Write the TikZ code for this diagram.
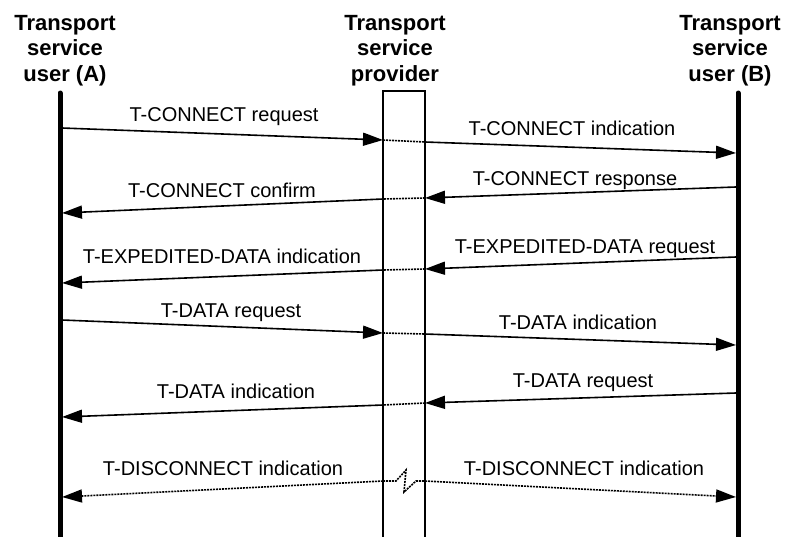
\documentclass[tikz,border=0pt]{standalone}
\usepackage{fontspec}
\setmainfont{Liberation Sans}
\usepackage{tikz}
\usetikzlibrary{arrows.meta}

\begin{document}
\begin{tikzpicture}[
  x=1pt, y=-1pt,
  title/.style={align=center, inner sep=0pt, anchor=north,
               font=\fontsize{22}{25.5}\selectfont\bfseries},
  lbl/.style={inner sep=0pt, anchor=base, font=\fontsize{20}{24}\selectfont},
  life/.style={line width=5pt, line cap=round},
  msg/.style={-{Triangle[length=20pt, width=13pt]}, line width=1.6pt},
  hop/.style={line width=1.6pt, dash pattern=on 2pt off 1pt}
]
\clip (0,0) rectangle (800,536);
\useasboundingbox (0,0) rectangle (800,536);

% headings
\node[title] (userA) at (65,15) {Transport\\service\\user (A)};
\node[title] (prov) at (395,15) {Transport\\service\\provider};
\node[title] (userB) at (730,15) {Transport\\service\\user (B)};

% life lines and provider box
\draw[life] (60,93) -- (60,545);
\draw[life] (738,93) -- (738,545);
\draw[line width=1.6pt] (383,545) -- (383,91) -- (425,91) -- (425,545);

% T-CONNECT
\coordinate (c1a) at (62,128);  \coordinate (c1p) at (383,140);
\coordinate (c1q) at (425,142); \coordinate (c1b) at (736,153);
\draw[msg] (c1a) -- (c1p);
\draw[hop] (c1p) -- (c1q);
\draw[msg] (c1q) -- (c1b);
\node[lbl] (l1a) at (224,121) {T-CONNECT request};
\node[lbl] (l1b) at (572,135) {T-CONNECT indication};

\coordinate (c2b) at (736,187); \coordinate (c2q) at (425,198);
\coordinate (c2p) at (383,199); \coordinate (c2a) at (62,213);
\draw[msg] (c2b) -- (c2q);
\draw[hop] (c2q) -- (c2p);
\draw[msg] (c2p) -- (c2a);
\node[lbl] (l2b) at (575,185) {T-CONNECT response};
\node[lbl] (l2a) at (222,197) {T-CONNECT confirm};

% T-EXPEDITED-DATA
\coordinate (c3b) at (736,257); \coordinate (c3q) at (425,269);
\coordinate (c3p) at (383,270); \coordinate (c3a) at (62,283);
\draw[msg] (c3b) -- (c3q);
\draw[hop] (c3q) -- (c3p);
\draw[msg] (c3p) -- (c3a);
\node[lbl] (l3b) at (585,253) {T-EXPEDITED-DATA request};
\node[lbl] (l3a) at (222,263) {T-EXPEDITED-DATA indication};

% T-DATA
\coordinate (c4a) at (62,320);  \coordinate (c4p) at (383,333);
\coordinate (c4q) at (425,334); \coordinate (c4b) at (736,345);
\draw[msg] (c4a) -- (c4p);
\draw[hop] (c4p) -- (c4q);
\draw[msg] (c4q) -- (c4b);
\node[lbl] (l4a) at (231,317) {T-DATA request};
\node[lbl] (l4b) at (578,329) {T-DATA indication};

\coordinate (c5b) at (736,393); \coordinate (c5q) at (425,403);
\coordinate (c5p) at (383,405); \coordinate (c5a) at (62,417);
\draw[msg] (c5b) -- (c5q);
\draw[hop] (c5q) -- (c5p);
\draw[msg] (c5p) -- (c5a);
\node[lbl] (l5b) at (583,387) {T-DATA request};
\node[lbl] (l5a) at (236,398) {T-DATA indication};

% T-DISCONNECT
\coordinate (d1p) at (383,481); \coordinate (d1q) at (425,481);
\coordinate (d1a) at (62,497);  \coordinate (d1b) at (736,497);
\draw[hop] (d1p) -- ++(13,0) -- ++(10,-11) -- ++(-2,22) -- ++(12,-11) -- (d1q);
\draw[msg, hop] (d1p) -- (d1a);
\draw[msg, hop] (d1q) -- (d1b);
\node[lbl] (l6a) at (223,475) {T-DISCONNECT indication};
\node[lbl] (l6b) at (584,475) {T-DISCONNECT indication};
\end{tikzpicture}
\end{document}
